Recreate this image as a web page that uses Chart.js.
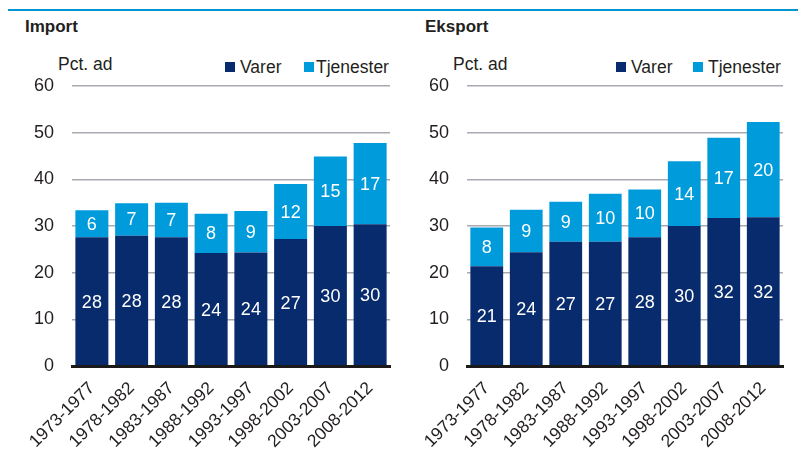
<!DOCTYPE html>
<html>
<head>
<meta charset="utf-8">
<script src="https://cdn.jsdelivr.net/npm/chart.js@4/dist/chart.umd.min.js"></script>
<style>
  html, body { margin: 0; padding: 0; background: #ffffff; }
  body { width: 798px; height: 459px; position: relative; overflow: hidden; font-family: "Liberation Sans", Arial, sans-serif; color: #231f20; }
  .abs { position: absolute; white-space: nowrap; line-height: 1; }
  .title { font-size: 17px; font-weight: bold; }
  .unit { font-size: 17.5px; }
  .leg { font-size: 17.5px; }
  .box { position: absolute; width: 10px; height: 10px; }
  .topline { position: absolute; left: 8px; top: 9px; width: 790px; height: 2px; background: #0096d6; }
  .cw { position: absolute; top: 0; height: 459px; }
</style>
</head>
<body>
<div class="topline"></div>

<div class="abs title" style="left:25px; top:18px;">Import</div>
<div class="abs unit" style="left:58px; top:56px;">Pct. ad</div>
<div class="box" style="left:225px; top:62px; background:#072b6c;"></div>
<div class="abs leg" style="left:240px; top:58.5px;">Varer</div>
<div class="box" style="left:304px; top:62px; background:#009bdb;"></div>
<div class="abs leg" style="left:316px; top:58.5px;">Tjenester</div>

<div class="abs title" style="left:425px; top:18px;">Eksport</div>
<div class="abs unit" style="left:453px; top:56px;">Pct. ad</div>
<div class="box" style="left:616px; top:62px; background:#072b6c;"></div>
<div class="abs leg" style="left:631px; top:58.5px;">Varer</div>
<div class="box" style="left:693px; top:62px; background:#009bdb;"></div>
<div class="abs leg" style="left:708px; top:58.5px;">Tjenester</div>

<div class="cw" style="left:0; width:400px;"><canvas id="cImport" width="400" height="459"></canvas></div>
<div class="cw" style="left:400px; width:398px;"><canvas id="cEksport" width="398" height="459"></canvas></div>

<script>
// ---- Data ----
const periods = ["1973-1977","1978-1982","1983-1987","1988-1992","1993-1997","1998-2002","2003-2007","2008-2012"];
const importVarer     = [27.6, 27.9, 27.6, 24.2, 24.3, 27.2, 30.0, 30.4];
const importTjenester = [5.8, 7.0, 7.4, 8.4, 8.9, 11.8, 14.9, 17.4];
const eksportVarer     = [21.4, 24.4, 26.6, 26.6, 27.6, 30.0, 31.7, 31.9];
const eksportTjenester = [8.3, 9.1, 8.6, 10.3, 10.2, 13.9, 17.2, 20.4];
const yTicks = [0, 10, 20, 30, 40, 50, 60];
const seriesNames = ["Varer", "Tjenester"];

const colVarer = "#072b6c";
const colTjen = "#009bdb";
const fontFam = "'Liberation Sans', Arial, sans-serif";

const barLabels = {
  id: "barLabels",
  afterDatasetsDraw(chart) {
    const ctx = chart.ctx;
    ctx.save();
    ctx.fillStyle = "#ffffff";
    ctx.font = "18px " + fontFam;
    ctx.textAlign = "center";
    ctx.textBaseline = "middle";
    chart.data.datasets.forEach((ds, di) => {
      const meta = chart.getDatasetMeta(di);
      meta.data.forEach((el, i) => {
        const v = ds.data[i];
        const yMid = (el.y + el.base) / 2;
        ctx.fillText(String(Math.round(v)), el.x, yMid + 1);
      });
    });
    ctx.restore();
  }
};

function makeChart(id, varer, tjen, yWidth, padRight) {
  return new Chart(document.getElementById(id), {
    type: "bar",
    data: {
      labels: periods,
      datasets: [
        { label: seriesNames[0], data: varer, backgroundColor: colVarer, borderWidth: 0, categoryPercentage: 1, barPercentage: 0.83 },
        { label: seriesNames[1], data: tjen, backgroundColor: colTjen, borderWidth: 0, categoryPercentage: 1, barPercentage: 0.83 }
      ]
    },
    options: {
      responsive: false,
      animation: false,
      devicePixelRatio: 1,
      layout: { padding: { top: 86, left: 0, right: padRight, bottom: 0 } },
      plugins: { legend: { display: false }, tooltip: { enabled: false }, title: { display: false } },
      scales: {
        x: {
          stacked: true,
          grid: { display: false, drawTicks: false },
          border: { display: true, color: "#1a1a1a", width: 3, z: 1 },
          ticks: { color: "#231f20", font: { family: fontFam, size: 17.5 }, minRotation: 45, maxRotation: 45, padding: 12, autoSkip: false },
          afterFit(scale) { scale.height = 93; }
        },
        y: {
          stacked: true,
          min: 0, max: 60,
          afterBuildTicks(scale) { scale.ticks = yTicks.map(v => ({ value: v })); },
          grid: {
            color: "#a9a9b1",
            lineWidth: (c) => (c.tick && c.tick.value === 0 ? 0 : 1.5),
            drawTicks: false
          },
          border: { display: false },
          ticks: { color: "#231f20", font: { family: fontFam, size: 18 }, padding: 18 },
          afterFit(scale) { scale.width = yWidth; }
        }
      }
    },
    plugins: [barLabels]
  });
}

makeChart("cImport", importVarer, importTjenester, 72, 10);
makeChart("cEksport", eksportVarer, eksportTjenester, 67, 15);
</script>
</body>
</html>
